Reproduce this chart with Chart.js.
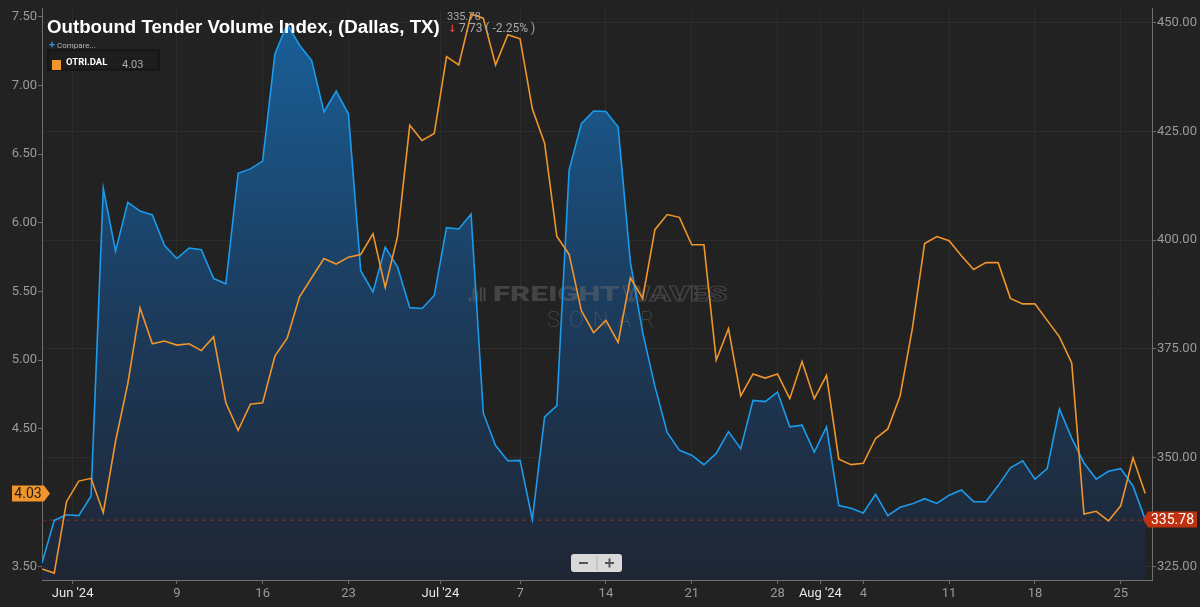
<!DOCTYPE html>
<html>
<head>
<meta charset="utf-8">
<script src="https://cdn.jsdelivr.net/npm/chart.js@4.4.1/dist/chart.umd.min.js"></script>
<style>
  html, body { margin: 0; padding: 0; background: #222222; }
  #chartContainer { width: 1200px; height: 607px; }
</style>
</head>
<body>
<div id="chartContainer"><canvas id="chartCanvas" width="1200" height="607"></canvas></div>
<script>
// OTVI.DAL - outbound tender volume index (right axis), May 29 - Aug 27 2024
const otviDal = [
  325.8, 335.6, 336.9, 336.7, 341.2, 411.9, 397.5, 408.7, 406.7, 405.8,
  398.8, 395.8, 398.2, 397.8, 391.2, 390.0, 415.4, 416.4, 418.2, 442.8,
  449.7, 444.9, 441.3, 429.5, 434.3, 429.0, 393.0, 388.1, 398.4, 393.9,
  384.5, 384.3, 387.3, 402.9, 402.6, 406.0, 360.3, 352.8, 349.3, 349.4,
  335.8, 359.4, 362.0, 416.1, 426.8, 429.7, 429.6, 426.0, 394.9, 378.8,
  366.4, 355.8, 351.7, 350.6, 348.4, 351.0, 356.0, 352.1, 363.2, 362.9,
  365.1, 357.1, 357.5, 351.3, 357.1, 339.0, 338.4, 337.3, 341.6, 336.7,
  338.6, 339.4, 340.6, 339.5, 341.4, 342.6, 339.9, 339.9, 343.6, 347.7,
  349.3, 345.1, 347.5, 361.2, 354.5, 348.8, 345.1, 346.9, 347.5, 343.51,
  335.78
];

// OTRI.DAL - outbound tender reject index (left axis)
const otriDal = [
  3.48, 3.45, 3.97, 4.12, 4.14, 3.89, 4.41, 4.83, 5.38, 5.12,
  5.14, 5.11, 5.12, 5.07, 5.17, 4.69, 4.49, 4.68, 4.69, 5.03,
  5.16, 5.46, 5.60, 5.74, 5.70, 5.75, 5.77, 5.92, 5.53, 5.90,
  6.71, 6.60, 6.65, 7.21, 7.15, 7.52, 7.49, 7.15, 7.37, 7.34,
  6.83, 6.58, 5.90, 5.77, 5.36, 5.20, 5.29, 5.13, 5.60, 5.45,
  5.95, 6.06, 6.04, 5.84, 5.84, 5.00, 5.23, 4.74, 4.90, 4.87,
  4.90, 4.72, 4.99, 4.72, 4.89, 4.28, 4.24, 4.25, 4.43, 4.50,
  4.74, 5.23, 5.85, 5.90, 5.87, 5.76, 5.66, 5.71, 5.71, 5.45,
  5.41, 5.41, 5.29, 5.17, 4.98, 3.88, 3.90, 3.83, 3.94, 4.29,
  4.03
];

// x ticks, as day offsets from May 29 (month ticks sit half a day early)
const xTickDays = [2.5, 11, 18, 25, 32.5, 39, 46, 53, 60, 63.5, 67, 74, 81, 88];
const xTickLabels = ["Jun '24", "9", "16", "23", "Jul '24", "7", "14", "21", "28", "Aug '24", "4", "11", "18", "25"];
const leftTicks = [3.5, 4.0, 4.5, 5.0, 5.5, 6.0, 6.5, 7.0, 7.5];
const rightTicks = [325, 350, 375, 400, 425, 450];

const titleText = "Outbound Tender Volume Index, (Dallas, TX)";

Chart.defaults.font.family = "Roboto, 'Liberation Sans', sans-serif";

const toPoints = arr => arr.map((v, i) => ({ x: i, y: v }));

function drawTag(ctx, tipX, y, bodyL, bodyR, color, text, textColor) {
    const h = 16;
    ctx.save();
    ctx.fillStyle = color;
    ctx.beginPath();
    if (tipX > bodyR) { // points right
        ctx.moveTo(bodyL, y - h / 2);
        ctx.lineTo(bodyR, y - h / 2);
        ctx.lineTo(tipX, y);
        ctx.lineTo(bodyR, y + h / 2);
        ctx.lineTo(bodyL, y + h / 2);
    } else { // points left
        ctx.moveTo(bodyR, y - h / 2);
        ctx.lineTo(bodyL, y - h / 2);
        ctx.lineTo(tipX, y);
        ctx.lineTo(bodyL, y + h / 2);
        ctx.lineTo(bodyR, y + h / 2);
    }
    ctx.closePath();
    ctx.fill();
    ctx.fillStyle = textColor;
    ctx.font = "14px Roboto";
    ctx.textAlign = "center";
    ctx.textBaseline = "middle";
    ctx.fillText(text, (bodyL + bodyR) / 2, y + 1);
    ctx.restore();
}

const overlay = {
    id: "overlay",
    beforeDatasetsDraw(chart) {
        const { ctx, chartArea: a, scales } = chart;
        const cx = (a.left + a.right) / 2;
        const cy = (a.top + a.bottom) / 2;
        ctx.save();
        // watermark
        const wm = "rgba(110,110,110,0.45)";
        ctx.fillStyle = wm;
        ctx.strokeStyle = wm;
        const iconX = cx - 128;
        [4, 14, 10, 14, 14].forEach((hh, i) => {
            ctx.fillRect(iconX + i * 3.6, cy + 7 - hh, 2.2, hh);
        });
        ctx.font = "900 20px Roboto";
        ctx.textBaseline = "alphabetic";
        ctx.textAlign = "left";
        const wF = ctx.measureText("FREIGHT").width;
        const wW = ctx.measureText("WAVES").width;
        const sx = 231 / (wF + wW);
        ctx.save();
        ctx.translate(cx - 104, cy + 7);
        ctx.scale(sx, 1);
        ctx.fillText("FREIGHT", 0, 0);
        ctx.lineWidth = 1;
        ctx.font = "900 20px Roboto";
        ctx.strokeText("WAVES", wF + 2, 0);
        ctx.restore();
        ctx.font = "200 22px Roboto";
        ctx.textAlign = "center";
        if ("letterSpacing" in ctx) ctx.letterSpacing = "9px";
        ctx.fillText("SONAR", cx + 8, cy + 33);
        if ("letterSpacing" in ctx) ctx.letterSpacing = "0px";
        ctx.restore();

        // dashed last-value line
        const yLast = scales.yR.getPixelForValue(otviDal[otviDal.length - 1]);
        ctx.save();
        ctx.strokeStyle = "#8e2a1c";
        ctx.lineWidth = 1;
        ctx.setLineDash([4, 4]);
        ctx.beginPath();
        ctx.moveTo(a.left, yLast + 0.5);
        ctx.lineTo(a.right, yLast + 0.5);
        ctx.stroke();
        ctx.restore();
    },
    afterDraw(chart) {
        const { ctx, chartArea: a, scales } = chart;
        const lastV = otviDal[otviDal.length - 1];
        const prevV = otviDal[otviDal.length - 2];
        const lastR = otriDal[otriDal.length - 1];
        ctx.save();
        // title
        ctx.fillStyle = "#ffffff";
        ctx.font = "bold 20px 'Liberation Sans'";
        const tw = ctx.measureText(titleText).width;
        const fs = 20 * 393 / tw;
        ctx.font = "bold " + fs.toFixed(2) + "px 'Liberation Sans'";
        ctx.textBaseline = "middle";
        ctx.textAlign = "left";
        ctx.fillText(titleText, 47, 28);

        // last value / change
        ctx.fillStyle = "#a8a8a8";
        ctx.font = "11px Roboto";
        ctx.fillText(lastV.toFixed(2), 447, 17);
        ctx.fillStyle = "#e0464a";
        ctx.font = "bold 10px 'DejaVu Sans'";
        ctx.fillText("\u2193", 448, 29);
        const chg = lastV - prevV;
        ctx.fillStyle = "#a8a8a8";
        ctx.font = "12px Roboto";
        ctx.fillText(Math.abs(chg).toFixed(2) + " ( " + (chg / prevV * 100).toFixed(2) + "% )", 459, 29);

        // compare link
        ctx.fillStyle = "#2a8fe0";
        ctx.font = "bold 11px Roboto";
        ctx.fillText("+", 49, 45.5);
        ctx.fillStyle = "#b5b5b5";
        ctx.font = "8px Roboto";
        ctx.fillText("Compare...", 57, 45.5);

        // legend box
        ctx.fillStyle = "#1d1d1d";
        ctx.fillRect(48, 50, 111, 20);
        ctx.strokeStyle = "#141414";
        ctx.lineWidth = 1.5;
        ctx.strokeRect(48, 50, 111, 20);
        ctx.fillStyle = "#f0952b";
        ctx.fillRect(52, 60, 9, 10);
        ctx.fillStyle = "#ffffff";
        ctx.font = "bold 9.5px Roboto";
        ctx.fillText("OTRI.DAL", 66, 63);
        ctx.fillStyle = "#a8a8a8";
        ctx.font = "11px Roboto";
        ctx.fillText(lastR.toFixed(2), 122, 65);

        // zoom buttons
        const bx = 571, by = 554, bw = 51, bh = 18;
        ctx.fillStyle = "#d9d9d9";
        ctx.beginPath();
        ctx.roundRect(bx, by, bw, bh, 3);
        ctx.fill();
        ctx.strokeStyle = "#b0b0b0";
        ctx.lineWidth = 1;
        ctx.beginPath();
        ctx.moveTo(bx + bw / 2 + 0.5, by + 2);
        ctx.lineTo(bx + bw / 2 + 0.5, by + bh - 2);
        ctx.stroke();
        ctx.strokeStyle = "#555555";
        ctx.lineWidth = 2;
        ctx.beginPath();
        ctx.moveTo(bx + 8, by + bh / 2);
        ctx.lineTo(bx + 17, by + bh / 2);
        ctx.moveTo(bx + bw - 17, by + bh / 2);
        ctx.lineTo(bx + bw - 8, by + bh / 2);
        ctx.moveTo(bx + bw - 12.5, by + bh / 2 - 4.5);
        ctx.lineTo(bx + bw - 12.5, by + bh / 2 + 4.5);
        ctx.stroke();
        ctx.restore();

        // last value tags on the axes
        const yL = scales.yL.getPixelForValue(lastR);
        drawTag(ctx, a.left + 8, yL, 12, a.left + 2, "#f0952b", lastR.toFixed(2), "#1e1e1e");
        const yR = scales.yR.getPixelForValue(lastV);
        drawTag(ctx, a.right - 9, yR, a.right - 4, 1197, "#c0310f", lastV.toFixed(2), "#ffffff");
    }
};

const ctx = document.getElementById("chartCanvas").getContext("2d");

new Chart(ctx, {
    type: "line",
    data: {
        datasets: [
            {
                label: "OTRI.DAL",
                data: toPoints(otriDal),
                yAxisID: "yL",
                borderColor: "#f0952b",
                borderWidth: 1.6,
                pointRadius: 0,
                tension: 0,
                fill: false,
            },
            {
                label: "OTVI.DAL",
                data: toPoints(otviDal),
                yAxisID: "yR",
                borderColor: "#1b9bec",
                borderWidth: 1.6,
                pointRadius: 0,
                tension: 0,
                fill: "start",
                backgroundColor: (c) => {
                    const area = c.chart.chartArea;
                    if (!area) return "rgba(27,80,130,0.8)";
                    const g = c.chart.ctx.createLinearGradient(0, area.top, 0, area.bottom);
                    g.addColorStop(0, "#19619b");
                    g.addColorStop(0.5, "#1c3d5f");
                    g.addColorStop(1, "#1f2634");
                    return g;
                },
            },
        ],
    },
    options: {
        responsive: false,
        animation: false,
        devicePixelRatio: 1,
        layout: { padding: { top: 2, left: 0, right: 0, bottom: 0 } },
        plugins: {
            legend: { display: false },
            tooltip: { enabled: false },
            title: { display: false },
            filler: { drawTime: "beforeDatasetsDraw" },
        },
        scales: {
            x: {
                type: "linear",
                min: 0,
                max: 90.55,
                afterBuildTicks: (s) => { s.ticks = xTickDays.map(v => ({ value: v })); },
                afterFit: (s) => { s.height = 27; },
                ticks: {
                    autoSkip: false,
                    maxRotation: 0,
                    padding: 2,
                    font: { size: 13 },
                    color: (c) => (xTickLabels[c.index] || "").includes("'") ? "#e8e8e8" : "#9a9a9a",
                    callback: (v, i) => xTickLabels[i],
                },
                grid: { color: "#2c2c2c", tickColor: "#6f6f6f", tickLength: 4 },
                border: { color: "#6f6f6f" },
            },
            yL: {
                type: "linear",
                position: "left",
                min: 3.4,
                max: 7.558,
                afterBuildTicks: (s) => { s.ticks = leftTicks.map(v => ({ value: v })); },
                afterFit: (s) => { s.width = 42; },
                ticks: {
                    padding: 1,
                    font: { size: 13 },
                    color: "#9a9a9a",
                    callback: (v) => v.toFixed(2),
                },
                grid: { drawOnChartArea: false, tickColor: "#6f6f6f", tickLength: 4 },
                border: { color: "#6f6f6f" },
            },
            yR: {
                type: "linear",
                position: "right",
                min: 321.9,
                max: 453.2,
                afterBuildTicks: (s) => { s.ticks = rightTicks.map(v => ({ value: v })); },
                afterFit: (s) => { s.width = 48; },
                ticks: {
                    padding: 1,
                    font: { size: 13 },
                    color: "#9a9a9a",
                    callback: (v) => v.toFixed(2),
                },
                grid: { color: "#2c2c2c", tickColor: "#6f6f6f", tickLength: 4 },
                border: { color: "#6f6f6f" },
            },
        },
    },
    plugins: [overlay],
});
</script>
</body>
</html>
